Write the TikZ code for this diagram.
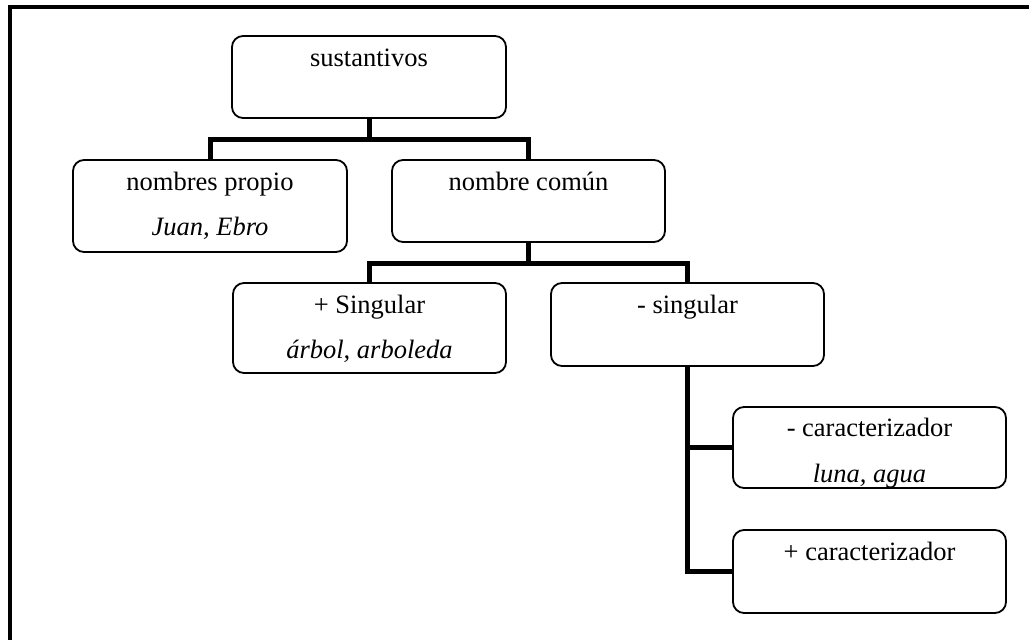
\documentclass[tikz,border=0pt]{standalone}
\usepackage{fontspec}
\setmainfont{Liberation Serif}
\begin{document}
\begin{tikzpicture}[x=1pt,y=-1pt,
  box/.style={draw, rounded corners=11pt, line width=1.8pt, inner sep=0pt, outer sep=0pt, minimum width=#1},
  box/.default=273pt,
  lbl/.style={anchor=base, inner sep=0pt, font=\fontsize{26.5}{30}\selectfont},
  conn/.style={line width=5pt, line join=miter, line cap=butt},
  frame/.style={line width=4pt, line join=miter}]
\useasboundingbox (0,0) rectangle (1029,640);
% outer frame (clipped at page edges)
\coordinate (fa) at (9.5,640);
\coordinate (fb) at (9.5,6.5);
\coordinate (fc) at (1029,6.5);
\draw[frame] (fa) -- (fb) -- (fc);
% boxes
\node[box=274pt, minimum height=82pt] (sus) at (369,77) {};
\node[box=274pt, minimum height=92pt] (np) at (210,206) {};
\node[box, minimum height=82pt] (nc) at (528.5,201) {};
\node[box, minimum height=90pt] (ps) at (369.5,328) {};
\node[box, minimum height=83pt] (ns) at (687.5,324.5) {};
\node[box, minimum height=81pt] (mc) at (869.5,447.5) {};
\node[box, minimum height=83pt] (pc) at (869.5,571.5) {};
% labels
\node[lbl] (tsus) at ([yshift=-30pt]sus.north) {sustantivos};
\node[lbl] (tnp) at ([yshift=-30pt]np.north) {nombres propio};
\node[lbl] (tnp2) at ([yshift=-75pt]np.north) {\itshape Juan, Ebro};
\node[lbl] (tnc) at ([yshift=-30pt]nc.north) {nombre común};
\node[lbl] (tps) at ([yshift=-30pt]ps.north) {+ Singular};
\node[lbl] (tps2) at ([yshift=-75pt]ps.north) {\itshape árbol, arboleda};
\node[lbl] (tns) at ([yshift=-30pt]ns.north) {- singular};
\node[lbl] (tmc) at ([yshift=-29pt]mc.north) {- caracterizador};
\node[lbl] (tmc2) at ([yshift=-75pt]mc.north) {\itshape luna, agua};
\node[lbl] (tpc) at ([yshift=-30pt]pc.north) {+ caracterizador};
% connectors
\coordinate (j1) at (369,139);
\draw[conn] (sus.south) -- (j1);
\draw[conn] (np.north) -- (np.north |- j1) -- (nc.north |- j1) -- (nc.north);
\coordinate (j2) at (528.5,263);
\draw[conn] (nc.south) -- (j2);
\draw[conn] (ps.north) -- (ps.north |- j2) -- (ns.north |- j2) -- (ns.north);
\draw[conn] (ns.south) |- (pc.west);
\draw[conn] (ns.south |- mc.west) -- (mc.west);
\end{tikzpicture}
\end{document}
